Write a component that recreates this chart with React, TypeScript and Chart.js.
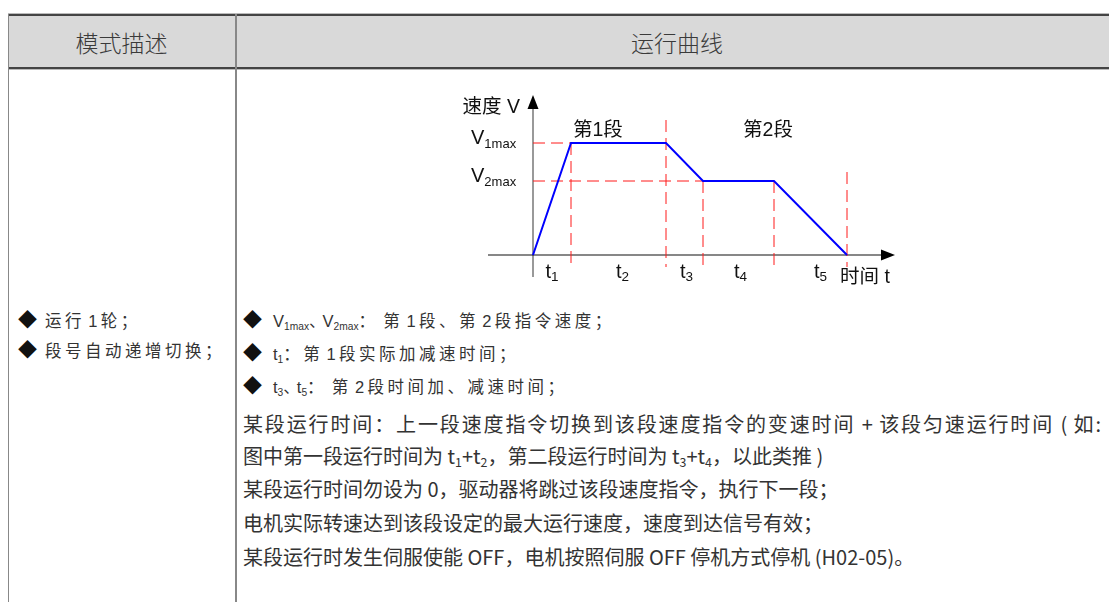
import React, { useEffect, useRef } from "react";
import { Chart, registerables } from "chart.js";

Chart.register(...registerables);

// ---- data ----
const timeBreaks = [0, 38, 133, 170, 241, 314]; // boundaries of t1..t5
const speedProfile = [0, 112, 112, 74, 74, 0]; // speed at each boundary
const maxSpeeds = [112, 74]; // V1max, V2max
const guideTops = [112, 135, 74, 74, 83]; // top of vertical guides at each boundary
const guideBottom = -12;
const timeSubscripts = ["1", "2", "3", "4", "5"];
const speedLabels = ["1max", "2max"];
const segmentLabels = ["第1段", "第2段"];

const CJK = "'Noto Sans CJK SC', 'Noto Sans', sans-serif";
const LAT = "'Liberation Sans', Arial, 'Noto Sans CJK SC', sans-serif";

function SpeedChart() {
  const ref = useRef<HTMLCanvasElement | null>(null);
  useEffect(() => {
    if (!ref.current) return;
    const profile = timeBreaks.map((t, i) => ({ x: t, y: speedProfile[i] }));
    const guides: any[] = [];
    guides.push({ x: 0, y: maxSpeeds[0] }, { x: timeBreaks[1], y: maxSpeeds[0] }, { x: 0, y: null });
    guides.push({ x: 0, y: maxSpeeds[1] }, { x: timeBreaks[3], y: maxSpeeds[1] }, { x: 0, y: null });
    for (let i = 1; i < timeBreaks.length; i++) {
      guides.push({ x: timeBreaks[i], y: guideTops[i - 1] }, { x: timeBreaks[i], y: guideBottom }, { x: 0, y: null });
    }
    const decor = {
      id: "decor",
      beforeDatasetsDraw(chart: any) {
        const { ctx, scales } = chart;
        const xs = scales.x, ys = scales.y;
        const ox = xs.getPixelForValue(0);
        const oy = ys.getPixelForValue(0);
        ctx.save();
        ctx.strokeStyle = "#555";
        ctx.lineWidth = 1.2;
        ctx.beginPath();
        ctx.moveTo(ox, oy + 22);
        ctx.lineTo(ox, 22);
        ctx.stroke();
        ctx.fillStyle = "#000";
        ctx.beginPath();
        ctx.moveTo(ox, 10);
        ctx.lineTo(ox - 5.5, 24);
        ctx.lineTo(ox + 5.5, 24);
        ctx.closePath();
        ctx.fill();
        ctx.strokeStyle = "#111";
        ctx.lineWidth = 1.2;
        ctx.beginPath();
        ctx.moveTo(ox - 45, oy);
        ctx.lineTo(ox + 350, oy);
        ctx.stroke();
        ctx.beginPath();
        ctx.moveTo(ox + 362, oy);
        ctx.lineTo(ox + 348, oy - 5.5);
        ctx.lineTo(ox + 348, oy + 5.5);
        ctx.closePath();
        ctx.fill();
        ctx.restore();
      },
      afterDatasetsDraw(chart: any) {
        const { ctx, scales } = chart;
        const xs = scales.x, ys = scales.y;
        const ox = xs.getPixelForValue(0);
        const oy = ys.getPixelForValue(0);
        ctx.save();
        ctx.fillStyle = "#111";
        ctx.textBaseline = "middle";
        ctx.font = `19.5px ${LAT}`;
        ctx.textAlign = "right";
        ctx.fillText("速度 V", ox - 13, 23);
        maxSpeeds.forEach((v, i) => {
          const py = ys.getPixelForValue(v);
          ctx.textAlign = "left";
          ctx.font = `20px ${LAT}`;
          const x0 = ox - 62;
          ctx.fillText("V", x0, py - 5);
          const w = ctx.measureText("V").width;
          ctx.font = `13px ${LAT}`;
          ctx.fillText(speedLabels[i], x0 + w, py + 1);
        });
        ctx.font = `19.5px ${LAT}`;
        ctx.textAlign = "left";
        ctx.fillText(segmentLabels[0], xs.getPixelForValue(timeBreaks[1]) + 2, ys.getPixelForValue(maxSpeeds[0]) - 12);
        ctx.textAlign = "center";
        const mid2 = (xs.getPixelForValue(timeBreaks[3]) + xs.getPixelForValue(timeBreaks[5])) / 2;
        ctx.fillText(segmentLabels[1], mid2 - 7, ys.getPixelForValue(maxSpeeds[0]) - 12);
        const shifts = [0, 4, 2, 2, 10];
        for (let i = 0; i < 5; i++) {
          const mx = (xs.getPixelForValue(timeBreaks[i]) + xs.getPixelForValue(timeBreaks[i + 1])) / 2 + shifts[i];
          ctx.font = `20px ${LAT}`;
          const tw = ctx.measureText("t").width;
          ctx.font = `13.5px ${LAT}`;
          const sw = ctx.measureText(timeSubscripts[i]).width;
          const left = mx - (tw + sw) / 2;
          ctx.textAlign = "left";
          ctx.font = `20px ${LAT}`;
          ctx.fillText("t", left, oy + 17);
          ctx.font = `13.5px ${LAT}`;
          ctx.fillText(timeSubscripts[i], left + tw, oy + 22);
        }
        ctx.font = `19.5px ${LAT}`;
        ctx.textAlign = "left";
        ctx.fillText("时间 t", xs.getPixelForValue(timeBreaks[5]) - 7, oy + 23);
        ctx.restore();
      },
    };
    const chart = new Chart(ref.current, {
      type: "line",
      data: {
        datasets: [
          {
            data: profile,
            borderColor: "#0000ff",
            borderWidth: 2,
            pointRadius: 0,
            clip: false as any,
            order: 0,
          },
          {
            data: guides,
            borderColor: "#ff1a1a",
            borderWidth: 1,
            borderDash: [12, 6],
            pointRadius: 0,
            spanGaps: false,
            clip: false as any,
            order: 1,
          },
        ],
      },
      options: {
        animation: false,
        responsive: false,
        events: [],
        layout: { padding: { left: 93, right: 63, top: 58, bottom: 40 } },
        scales: {
          x: { type: "linear", min: 0, max: 314, display: false },
          y: { type: "linear", min: 0, max: 112, display: false },
        },
        plugins: { legend: { display: false }, tooltip: { enabled: false } },
      },
      plugins: [decor],
    });
    return () => chart.destroy();
  }, []);
  return (
    <canvas
      ref={ref}
      width={470}
      height={210}
      style={{ position: "absolute", left: 440, top: 85, width: 470, height: 210 }}
    />
  );
}

function Line(props: { x: number; y: number; size: number; children: any; style?: any }) {
  const lh = Math.round(props.size * 1.5);
  return (
    <div
      style={{
        position: "absolute",
        left: props.x,
        top: props.y - lh / 2,
        height: lh,
        lineHeight: lh + "px",
        fontSize: props.size,
        whiteSpace: "nowrap",
        color: "#333",
        ...(props.style || {}),
      }}
    >
      {props.children}
    </div>
  );
}

const sub = (s: string) => (
  <sub style={{ fontSize: "0.62em", verticalAlign: "-0.25em", lineHeight: 0, letterSpacing: "normal" }}>{s}</sub>
);

// spaced CJK runs, plain latin runs, narrow "、"
function spaced(text: string) {
  const parts = text.split(/([、]|[\u3000-\u303f\u4e00-\u9fff\uff00-\uffef]+)/).filter((p) => p !== "");
  return parts.map((p, i) => {
    if (p === "、") return <span key={i} style={{ letterSpacing: "-3px" }}>{p}</span>;
    if (/[\u3000-\u303f\u4e00-\u9fff\uff00-\uffef]/.test(p)) return <span key={i} style={{ letterSpacing: "3.5px" }}>{p}</span>;
    return <span key={i}>{p}</span>;
  });
}

const Diamond = (props: { w: number }) => (
  <span style={{ fontSize: 19, letterSpacing: 0, display: "inline-block", width: props.w, color: "#111" }}>◆</span>
);

const TS = "\u2009";

export default function App() {
  const bulletFont = { fontFamily: LAT, color: "#333" };
  const bodyFont = { fontFamily: CJK, fontWeight: 400, color: "#333" };
  return (
    <div style={{ position: "absolute", left: 0, top: 0, width: 1109, height: 602, overflow: "hidden", background: "#fff" }}>
      {/* header */}
      <div style={{ position: "absolute", left: 8, top: 14, width: 1101, height: 54, background: "#d9d9d9" }} />
      <div style={{ position: "absolute", left: 8, top: 13, width: 1101, height: 1, background: "#bbb" }} />
      <div style={{ position: "absolute", left: 8, top: 14, width: 1101, height: 1.5, background: "#444" }} />
      <div style={{ position: "absolute", left: 8, top: 67, width: 1101, height: 1.5, background: "#444" }} />
      <div style={{ position: "absolute", left: 8, top: 68.5, width: 1101, height: 1, background: "#bbb" }} />
      <div style={{ position: "absolute", left: 7.5, top: 14, width: 1.5, height: 600, background: "#888" }} />
      <div style={{ position: "absolute", left: 234.5, top: 14, width: 2, height: 600, background: "#888" }} />
      <Line x={0} y={42} size={23} style={{ width: 243, textAlign: "center", fontFamily: CJK, fontWeight: 300, color: "#3a3a3a" }}>
        模式描述
      </Line>
      <Line x={577} y={42} size={23} style={{ width: 200, textAlign: "center", fontFamily: CJK, fontWeight: 300, color: "#3a3a3a" }}>
        运行曲线
      </Line>

      <SpeedChart />

      {/* left column */}
      <Line x={18} y={320} size={16.5} style={bulletFont}><Diamond w={27} />{spaced(`运行${TS}1${TS}轮；`)}</Line>
      <Line x={18} y={350} size={16.5} style={bulletFont}><Diamond w={27} />{spaced("段号自动递增切换；")}</Line>

      {/* right column bullets */}
      <Line x={243} y={320} size={16.5} style={bulletFont}>
        <Diamond w={30} />V{sub("1max")}{spaced("、")}V{sub("2max")}{spaced(`： 第${TS}1${TS}段、第${TS}2${TS}段指令速度；`)}
      </Line>
      <Line x={243} y={353} size={16.5} style={bulletFont}>
        <Diamond w={30} />t{sub("1")}{spaced(`：第${TS}1${TS}段实际加减速时间；`)}
      </Line>
      <Line x={243} y={386} size={16.5} style={bulletFont}>
        <Diamond w={30} />t{sub("3")}{spaced("、")}t{sub("5")}{spaced(`： 第${TS}2${TS}段时间加、减速时间；`)}
      </Line>

      {/* paragraphs */}
      <Line x={243} y={424} size={20} style={{ ...bodyFont, width: 858, textAlign: "justify", textAlignLast: "justify" }}>
        某段运行时间：上一段速度指令切换到该段速度指令的变速时间 + 该段匀速运行时间 ( 如:
      </Line>
      <Line x={243} y={456} size={20} style={bodyFont}>
        图中第一段运行时间为 t{sub("1")}+t{sub("2")}，第二段运行时间为 t{sub("3")}+t{sub("4")}，以此类推 )
      </Line>
      <Line x={243} y={489} size={20} style={bodyFont}>
        某段运行时间勿设为 0，驱动器将跳过该段速度指令，执行下一段；
      </Line>
      <Line x={243} y={523} size={20} style={bodyFont}>
        电机实际转速达到该段设定的最大运行速度，速度到达信号有效；
      </Line>
      <Line x={243} y={557} size={20} style={bodyFont}>
        某段运行时发生伺服使能 OFF，电机按照伺服 OFF 停机方式停机 (H02-05)。
      </Line>
    </div>
  );
}
